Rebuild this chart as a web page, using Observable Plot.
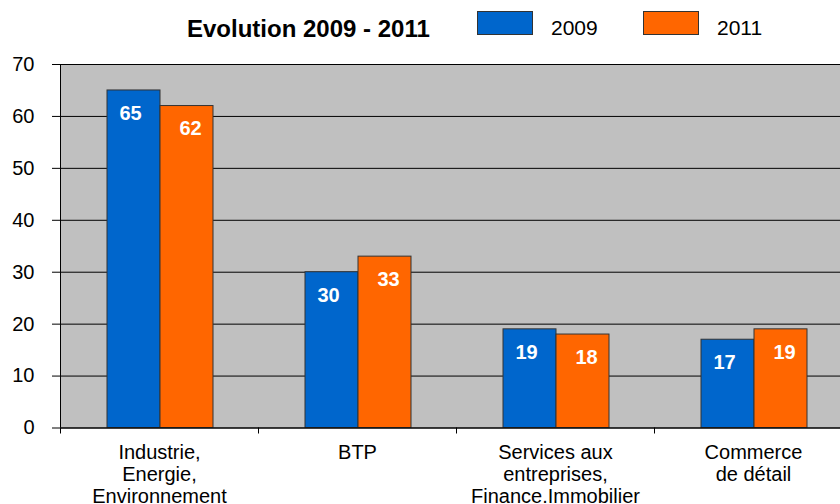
<!DOCTYPE html>
<html>
<head>
<meta charset="utf-8">
<script src="https://cdn.jsdelivr.net/npm/d3@7"></script>
<script src="https://cdn.jsdelivr.net/npm/@observablehq/plot@0.6"></script>
<style>
  html, body { margin: 0; padding: 0; background: #fff; overflow: hidden; }
  body { font-family: Arial, "Liberation Sans", sans-serif; width: 840px; height: 504px; }
  #header { position: relative; width: 840px; height: 54px; }
  #header div { position: absolute; line-height: 1; white-space: nowrap; color: #000; }
  .swatch { box-sizing: border-box; border: 1px solid #333; }
  #chart svg { display: block; overflow: hidden; }
</style>
</head>
<body>
<div id="header"></div>
<div id="chart"></div>
<script>
const title = "Evolution 2009 - 2011";
const series = ["2009", "2011"];
const seriesColors = ["#0066CC", "#FF6600"];
const categories = [
  "Industrie, Energie, Environnement",
  "BTP",
  "Services aux entreprises, Finance.Immobilier",
  "Commerce de détail"
];
const categoryLabels = [
  "Industrie,\nEnergie,\nEnvironnement",
  "BTP",
  "Services aux\nentreprises,\nFinance.Immobilier",
  "Commerce\nde détail"
];
const values2009 = [65, 30, 19, 17];
const values2011 = [62, 33, 18, 19];
const yTicks = [0, 10, 20, 30, 40, 50, 60, 70];

// header: title + legend
const header = document.getElementById("header");
function addDiv(text, style) {
  const d = document.createElement("div");
  d.textContent = text;
  Object.assign(d.style, style);
  header.appendChild(d);
  return d;
}
addDiv(title, {left: "187px", top: "17px", fontSize: "24px", fontWeight: "bold"});
const legendX = [477, 643];
series.forEach((s, i) => {
  const sw = document.createElement("div");
  sw.className = "swatch";
  Object.assign(sw.style, {left: legendX[i] + "px", top: "11px", width: "56px", height: "24px", background: seriesColors[i]});
  header.appendChild(sw);
  addDiv(s, {left: (legendX[i] + 74) + "px", top: "17px", fontSize: "21px"});
});

const d2009 = categories.map((c, i) => ({cat: c, value: values2009[i]}));
const d2011 = categories.map((c, i) => ({cat: c, value: values2011[i]}));
const labels = categories.map((c, i) => ({cat: c, label: categoryLabels[i]}));

const W = 840, H = 450, mTop = 10, mBottom = 76.5, mLeft = 60, mRight = -12;
const bw = (W - mLeft - mRight) / categories.length;
const plotH = H - mTop - mBottom;

const chart = Plot.plot({
  width: W,
  height: H,
  marginTop: mTop,
  marginBottom: mBottom,
  marginLeft: mLeft,
  marginRight: mRight,
  style: {fontFamily: "Arial, 'Liberation Sans', sans-serif", fontSize: "20px", color: "#000", background: "#fff"},
  x: {domain: categories, padding: 0, axis: null},
  y: {domain: [0, 70], label: null, axis: null},
  marks: [
    Plot.frame({fill: "#C0C0C0", stroke: null}),
    Plot.ruleY(yTicks, {stroke: "#000", strokeWidth: 1}),
    Plot.barY(d2009, {x: "cat", y: "value", fill: seriesColors[0], stroke: "#333", strokeWidth: 1, insetLeft: 47, insetRight: 98}),
    Plot.barY(d2011, {x: "cat", y: "value", fill: seriesColors[1], stroke: "#333", strokeWidth: 1, insetLeft: 100, insetRight: 45}),
    Plot.text(d2009, {x: "cat", y: "value", text: d => String(d.value), dx: -29, dy: 23, fill: "#fff", fontWeight: "bold", fontSize: 20}),
    Plot.text(d2011, {x: "cat", y: "value", text: d => String(d.value), dx: 31, dy: 23, fill: "#fff", fontWeight: "bold", fontSize: 20}),
    Plot.ruleX([categories[0]], {dx: -bw / 2, stroke: "#000", strokeWidth: 1}),
    Plot.ruleY([0], {stroke: "#000", strokeWidth: 1.2}),
    Plot.ruleX(categories, {dx: -bw / 2, stroke: "#000", insetTop: plotH, insetBottom: -6}),
    Plot.axisY({ticks: yTicks, tickSize: 8, tickPadding: 18, fontSize: 20, tickFormat: d => String(d), label: null}),
    Plot.text(labels, {x: "cat", text: "label", frameAnchor: "bottom", lineAnchor: "top", dy: 15.8, lineHeight: 1.1, fontSize: 20, fill: "#000"})
  ]
});
document.getElementById("chart").appendChild(chart);
</script>
</body>
</html>
